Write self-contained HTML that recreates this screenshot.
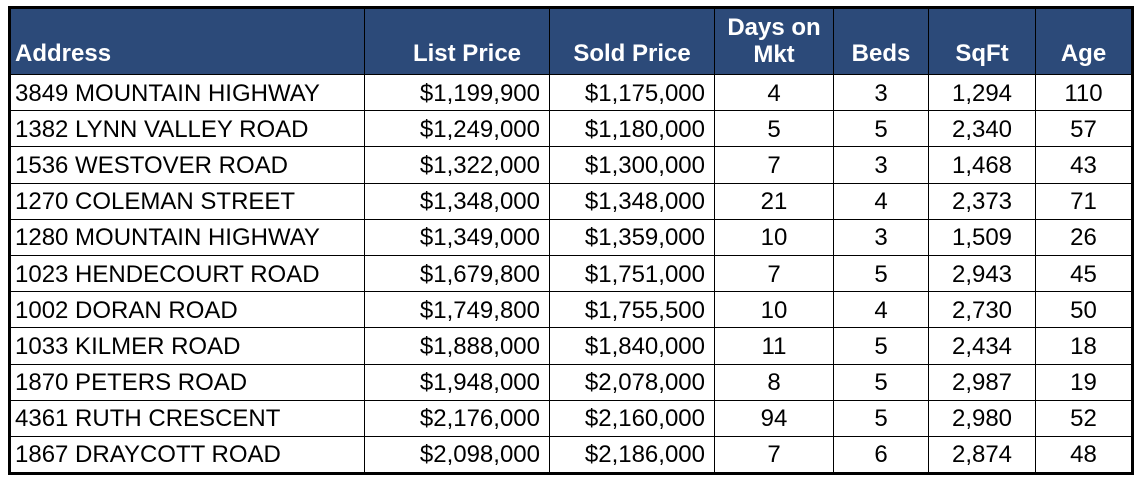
<!DOCTYPE html>
<html><head><style>
body{margin:0;width:1142px;height:480px;background:#fff;overflow:hidden;position:relative;font-family:"Liberation Sans",sans-serif}
table{position:absolute;left:8px;top:6px;border-collapse:collapse;table-layout:fixed;border:3px solid #000}
td,th{border:1.5px solid #000;padding:0;overflow:hidden;white-space:nowrap}
th{background:#2c4a79;color:#fff;font-weight:bold;font-size:24px;height:58px;vertical-align:bottom;padding-bottom:7px;line-height:27px}
td{height:34.2px;font-size:24px;color:#000;line-height:33px;padding-top:1px}
.l{text-align:left;padding-left:4px}
.r{text-align:right;padding-right:9px}
.c{text-align:center}
</style></head><body>
<table>
<colgroup><col style="width:355px"><col style="width:185px"><col style="width:165px"><col style="width:119px"><col style="width:95px"><col style="width:107px"><col style="width:97px"></colgroup>
<tr><th class="l">Address</th><th class="c" style="padding-left:20px">List Price</th><th class="c">Sold Price</th><th class="c" style="padding-bottom:6px">Days on<br>Mkt</th><th class="c">Beds</th><th class="c">SqFt</th><th class="c">Age</th></tr>
<tr><td class="l">3849 MOUNTAIN HIGHWAY</td><td class="r">$1,199,900</td><td class="r">$1,175,000</td><td class="c">4</td><td class="c">3</td><td class="c">1,294</td><td class="c">110</td></tr>
<tr><td class="l">1382 LYNN VALLEY ROAD</td><td class="r">$1,249,000</td><td class="r">$1,180,000</td><td class="c">5</td><td class="c">5</td><td class="c">2,340</td><td class="c">57</td></tr>
<tr><td class="l">1536 WESTOVER ROAD</td><td class="r">$1,322,000</td><td class="r">$1,300,000</td><td class="c">7</td><td class="c">3</td><td class="c">1,468</td><td class="c">43</td></tr>
<tr><td class="l">1270 COLEMAN STREET</td><td class="r">$1,348,000</td><td class="r">$1,348,000</td><td class="c">21</td><td class="c">4</td><td class="c">2,373</td><td class="c">71</td></tr>
<tr><td class="l">1280 MOUNTAIN HIGHWAY</td><td class="r">$1,349,000</td><td class="r">$1,359,000</td><td class="c">10</td><td class="c">3</td><td class="c">1,509</td><td class="c">26</td></tr>
<tr><td class="l">1023 HENDECOURT ROAD</td><td class="r">$1,679,800</td><td class="r">$1,751,000</td><td class="c">7</td><td class="c">5</td><td class="c">2,943</td><td class="c">45</td></tr>
<tr><td class="l">1002 DORAN ROAD</td><td class="r">$1,749,800</td><td class="r">$1,755,500</td><td class="c">10</td><td class="c">4</td><td class="c">2,730</td><td class="c">50</td></tr>
<tr><td class="l">1033 KILMER ROAD</td><td class="r">$1,888,000</td><td class="r">$1,840,000</td><td class="c">11</td><td class="c">5</td><td class="c">2,434</td><td class="c">18</td></tr>
<tr><td class="l">1870 PETERS ROAD</td><td class="r">$1,948,000</td><td class="r">$2,078,000</td><td class="c">8</td><td class="c">5</td><td class="c">2,987</td><td class="c">19</td></tr>
<tr><td class="l">4361 RUTH CRESCENT</td><td class="r">$2,176,000</td><td class="r">$2,160,000</td><td class="c">94</td><td class="c">5</td><td class="c">2,980</td><td class="c">52</td></tr>
<tr><td class="l">1867 DRAYCOTT ROAD</td><td class="r">$2,098,000</td><td class="r">$2,186,000</td><td class="c">7</td><td class="c">6</td><td class="c">2,874</td><td class="c">48</td></tr>
</table>
</body></html>
